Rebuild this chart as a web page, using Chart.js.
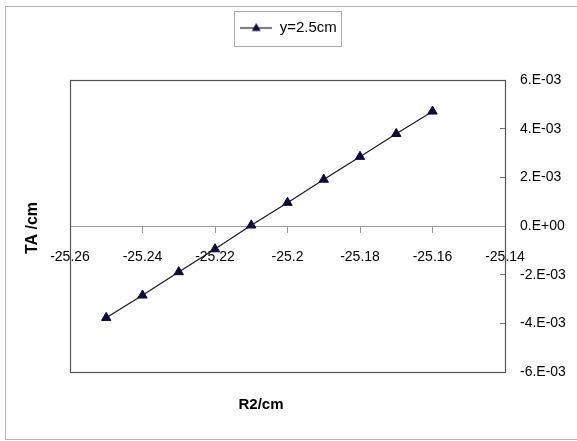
<!DOCTYPE html>
<html><head><meta charset="utf-8">
<script src="https://cdn.jsdelivr.net/npm/chart.js@4.4.0/dist/chart.umd.min.js"></script>
<style>html,body{margin:0;padding:0;background:#fff}</style>
</head><body>
<canvas id="c" width="577" height="441"></canvas>
<script>
// ---- data ----
const seriesName = 'y=2.5cm';
const r2Values = [-25.25, -25.24, -25.23, -25.22, -25.21, -25.20, -25.19, -25.18, -25.17, -25.16];
const taValues = [-3.77e-3, -2.85e-3, -1.89e-3, -0.95e-3, 0.03e-3, 0.96e-3, 1.91e-3, 2.85e-3, 3.79e-3, 4.71e-3];
const xTicks = [-25.26, -25.24, -25.22, -25.20, -25.18, -25.16, -25.14];
const yTicks = [-6e-3, -4e-3, -2e-3, 0, 2e-3, 4e-3, 6e-3];
const xTitle = 'R2/cm';
const yTitle = 'TA /cm';

const FONT = 'Liberation Sans, Arial, sans-serif';
Chart.defaults.font.family = FONT;
Chart.defaults.color = '#000';

function fmtExp(v) {
  if (Math.abs(v) < 1e-12) return '0.E+00';
  const e = Math.floor(Math.log10(Math.abs(v)) + 1e-9);
  const m = Math.round(v / Math.pow(10, e));
  const s = e < 0 ? '-' : '+';
  const a = Math.abs(e);
  return m + '.E' + s + (a < 10 ? '0' + a : a);
}

// legend symbol: line with triangle
const legImg = document.createElement('canvas');
legImg.width = 32; legImg.height = 12;
(function () {
  const g = legImg.getContext('2d');
  g.strokeStyle = '#1a1a1a'; g.lineWidth = 1.2;
  g.beginPath(); g.moveTo(0, 6.5); g.lineTo(32, 6.5); g.stroke();
  g.fillStyle = '#0b0b3b';
  g.beginPath(); g.moveTo(16, 1.5); g.lineTo(20.4, 9.5); g.lineTo(11.6, 9.5); g.closePath(); g.fill();
})();

const decor = {
  id: 'decor',
  beforeLayout(chart) {
    const lg = chart.legend;
    if (lg && !lg._patched) {
      const orig = lg.fit;
      lg.fit = function () { orig.call(this); if (this.options.display) this.height = 70; };
      lg._patched = true;
    }
  },
  afterLayout(chart) {
    const lg = chart.legend;
    if (lg) { lg.left = 0; lg.right = chart.width; lg.width = chart.width; }
  },
  beforeDraw(chart) {
    const ctx = chart.ctx;
    ctx.save();
    ctx.fillStyle = '#fff';
    ctx.fillRect(0, 0, chart.width, chart.height);
    ctx.strokeStyle = '#b4b4b4'; ctx.lineWidth = 1;
    ctx.strokeRect(5.5, 6.5, chart.width + 20, 433);
    ctx.restore();
  },
  beforeDatasetsDraw(chart) {
    const ctx = chart.ctx, a = chart.chartArea;
    ctx.save();
    ctx.strokeStyle = '#555'; ctx.lineWidth = 1.2;
    ctx.strokeRect(a.left + 0.5, a.top + 0.5, a.right - a.left, a.bottom - a.top);
    ctx.restore();
  },
  afterDraw(chart) {
    const ctx = chart.ctx, a = chart.chartArea;
    ctx.save();
    // legend frame
    const hb = chart.legend && chart.legend.legendHitBoxes && chart.legend.legendHitBoxes[0];
    if (hb) {
      const cy = hb.top + hb.height / 2;
      ctx.strokeStyle = '#aaa'; ctx.lineWidth = 1;
      ctx.strokeRect(Math.round(hb.left - 6) + 0.5, Math.round(cy - 17) + 0.5, Math.round(hb.width + 10), 35);
    }
    // axis titles
    ctx.fillStyle = '#000';
    ctx.font = 'bold 15px ' + FONT;
    ctx.textAlign = 'center'; ctx.textBaseline = 'middle';
    ctx.fillText(xTitle, a.left + 191, a.bottom + 33);
    ctx.font = 'bold 16px ' + FONT;
    ctx.translate(33, a.top + 148);
    ctx.rotate(-Math.PI / 2);
    ctx.fillText(yTitle, 0, 0);
    ctx.restore();
  }
};

new Chart(document.getElementById('c'), {
  type: 'scatter',
  data: {
    datasets: [{
      label: seriesName,
      data: r2Values.map((x, i) => ({ x: x, y: taValues[i] })),
      showLine: true,
      borderColor: '#1a1a1a',
      borderWidth: 1.2,
      pointStyle: 'triangle',
      pointRadius: 5.4,
      pointBackgroundColor: '#0b0b3b',
      pointBorderColor: '#0b0b3b',
      pointBorderWidth: 1
    }]
  },
  options: {
    responsive: false,
    animation: false,
    layout: { padding: { top: 10, left: 70, right: 0, bottom: 69 } },
    plugins: {
      legend: {
        display: true,
        position: 'top',
        labels: {
          usePointStyle: true,
          pointStyle: legImg,
          pointStyleWidth: 32,
          padding: 10,
          color: '#000',
          font: { size: 15, family: FONT }
        }
      },
      tooltip: { enabled: false }
    },
    scales: {
      x: {
        type: 'linear',
        position: { y: 0 },
        min: xTicks[0],
        max: xTicks[xTicks.length - 1],
        afterBuildTicks: s => { s.ticks = xTicks.map(v => ({ value: v })); },
        ticks: {
          callback: v => String(Number(v.toFixed(2))),
          font: { size: 14, family: FONT },
          color: '#000',
          padding: 17,
          maxRotation: 0,
          autoSkip: false
        },
        grid: { display: true, drawOnChartArea: false, drawTicks: true, tickLength: 6, color: '#9a9a9a' },
        border: { display: true, color: '#9a9a9a', width: 1 }
      },
      y: {
        type: 'linear',
        position: 'right',
        min: yTicks[0],
        max: yTicks[yTicks.length - 1],
        afterBuildTicks: s => { s.ticks = yTicks.map(v => ({ value: v })); },
        afterFit: s => { s.width = 72; },
        ticks: {
          callback: v => fmtExp(v),
          font: { size: 14, family: FONT },
          color: '#000',
          padding: 20,
          crossAlign: 'near',
          autoSkip: false
        },
        grid: { display: true, drawOnChartArea: false, drawTicks: true, tickLength: -5, color: '#777' },
        border: { display: false }
      }
    }
  },
  plugins: [decor]
});
</script>
</body></html>
